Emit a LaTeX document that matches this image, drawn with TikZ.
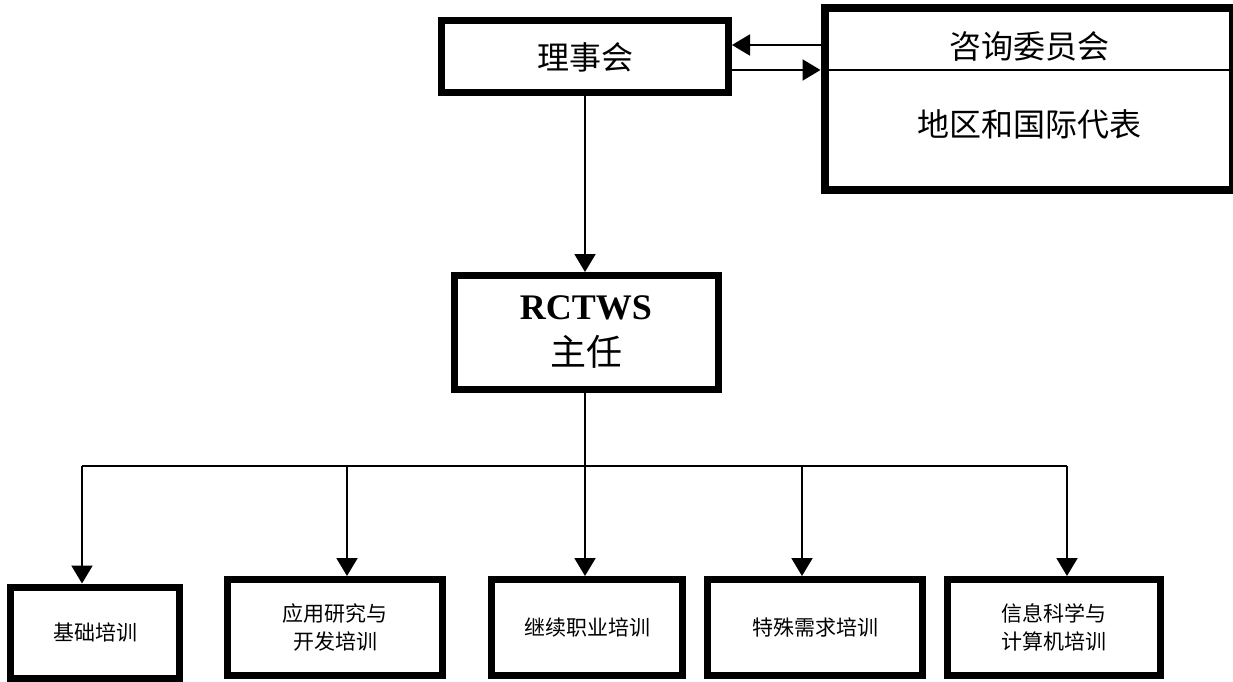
\documentclass[tikz,border=0pt]{standalone}
\usepackage{fontspec}
\setmainfont{Liberation Serif}
\newfontfamily\cjk{Noto Sans CJK SC}
\usetikzlibrary{arrows.meta}
\usetikzlibrary{positioning}

\begin{document}
\begin{tikzpicture}[x=1pt,y=-1pt]
      \tikzstyle{every node}=[align=center,inner sep=0pt,font=\cjk]
      \tikzstyle{box}=[draw,line width=7pt]
      \tikzstyle{big}=[font=\cjk\fontsize{32}{32}\selectfont]
      \tikzstyle{small}=[font=\cjk\fontsize{21}{28}\selectfont]
      \tikzstyle{link}=[line width=2pt]
      \tikzstyle{arr}=[link,-{Triangle[width=21pt,length=18pt]}]
      \useasboundingbox (0,0) rectangle (1233,682);

      \node[box,big,minimum width=287pt,minimum height=72pt] (board) at (585,57) {理事会};
      \node[box,line width=8pt,minimum width=408.5pt,minimum height=181pt] (advice) at (1028.75,99) {};
      \node[big] (advtop) at (1029,46)  {咨询委员会};
      \node[big] (advbot) at (1029,124) {地区和国际代表};
      \node[box,font=\cjk\fontsize{36}{46}\selectfont,minimum width=264pt,minimum height=114pt] (director) at (586,332.5)
           {{\normalfont\bfseries RCTWS}\\主任};

      \node[box,small,minimum width=169pt,minimum height=91.5pt] (basic)      at (95,632.75)  {基础培训};
      \node[box,small,minimum width=215pt,minimum height=95.5pt] (applied)    at (335,627.25) {应用研究与\\开发培训};
      \node[box,small,minimum width=191.5pt,minimum height=95.5pt] (continuing) at (587,627.25) {继续职业培训};
      \node[box,small,minimum width=215pt,minimum height=95.5pt] (special)    at (815,627.25) {特殊需求培训};
      \node[box,small,minimum width=213pt,minimum height=95.5pt] (info)       at (1054,627.25) {信息科学与\\计算机培训};

      \coordinate (upper) at (0,45);
      \coordinate (lower) at (0,70);
      \coordinate (b1) at (82,466);
      \coordinate (b2) at (347,466);
      \coordinate (b3) at (585,466);
      \coordinate (b4) at (802,466);
      \coordinate (b5) at (1067,466);

      \draw[link] (advice.west |- lower) -- (advice.east |- lower);
      \draw[arr] (advice.west |- upper) -- (board.east |- upper);
      \draw[arr] (board.east |- lower) -- (advice.west |- lower);
      \draw[arr] (board.south -| b3) -- (director.north -| b3);

      \draw[link] (director.south -| b3) -- (b3);
      \draw[link] (b1) -- (b5);
      \draw[arr] (b1) -- (basic.north -| b1);
      \draw[arr] (b2) -- (applied.north -| b2);
      \draw[arr] (b3) -- (continuing.north -| b3);
      \draw[arr] (b4) -- (special.north -| b4);
      \draw[arr] (b5) -- (info.north -| b5);
\end{tikzpicture}
\end{document}
